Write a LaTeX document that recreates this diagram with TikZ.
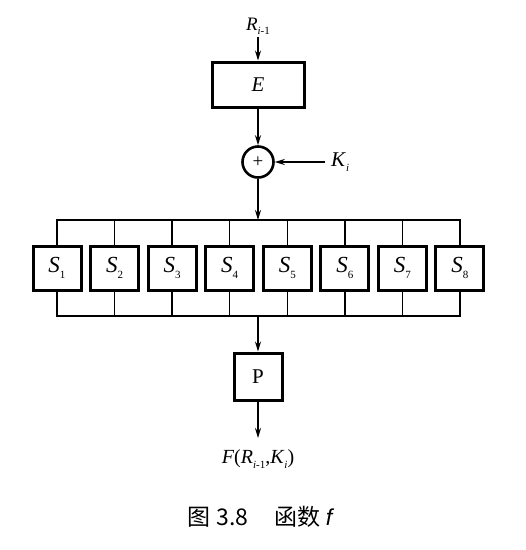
\documentclass[tikz,border=0pt]{standalone}
\usepackage{fontspec}
\setmainfont{Liberation Serif}
\setsansfont{Liberation Sans}
\newfontfamily\cjk{Noto Sans CJK SC}
\usetikzlibrary{arrows.meta}
\newcommand{\lsub}[1]{\raisebox{-0.5ex}{\fontsize{11}{12}\selectfont #1}}
\tikzset{
  x=1pt, y=-1pt,
  conn/.style={line width=1.5pt, draw=black},
  arr/.style={conn, -{Stealth[length=10pt,width=6pt]}},
  bigbox/.style={draw=black, line width=3pt, minimum width=92pt, minimum height=45pt, inner sep=0pt},
  sbox/.style={draw=black, line width=3pt, minimum width=48pt, minimum height=44pt, inner sep=0pt, font=\fontsize{23}{25}\selectfont},
  pbox/.style={draw=black, line width=3pt, minimum width=48pt, minimum height=47pt, inner sep=0pt, font=\fontsize{21}{23}\selectfont},
  xorc/.style={draw=black, circle, line width=2.6pt, minimum size=31pt, inner sep=0pt},
  lbl/.style={inner sep=0pt},
}
\begin{document}
\begin{tikzpicture}
\useasboundingbox[fill=white] (0,0) rectangle (526,550);

\node[lbl, font=\fontsize{19}{21}\selectfont] (r) at (258,26) {\textit{R}\lsub{\textit{i}-1}};
\coordinate (rin) at (258,37);
\node[bigbox, font=\fontsize{21}{23}\selectfont] (e) at (258,84.5) {\textit{E}};
\node[xorc] (x) at (258,162) {\fontsize{19}{19}\selectfont +};
\node[lbl, font=\fontsize{21}{23}\selectfont, anchor=west] (k) at (331,162) {\textit{K}\lsub{\textit{i}}};
\coordinate (kin) at (325,162);

\draw[arr] (rin) -- (e.north);
\draw[arr] (e.south) -- (x.north);
\draw[arr] (kin) -- (x.east);

\coordinate (tb) at (258,220);
\coordinate (bb) at (258,316);
\draw[arr] (x.south) -- (tb);

\foreach \i in {1,...,8} {
  \node[sbox] (s\i) at ({57+57.57*(\i-1)},268) {\textit{S}\lsub{\i}};
}
\draw[conn] (s1.north) |- (tb) -| (s8.north);
\draw[conn] (s1.south) |- (bb) -| (s8.south);
\foreach \i in {2,...,7} {
  \draw[conn] (s\i.north) -- (s\i.north |- tb);
  \draw[conn] (s\i.south) -- (s\i.south |- bb);
}

\node[pbox] (p) at (258,376.5) {P};
\draw[arr] (bb) -- (p.north);
\coordinate (pout) at (258,438);
\draw[arr] (p.south) -- (pout);
\node[lbl, font=\fontsize{20}{22}\selectfont] (f) at (258,459) {\textit{F}(\textit{R}\lsub{\textit{i}-1},\textit{K}\lsub{\textit{i}})};

\node[lbl] (cap) at (260,517) {\fontsize{23}{26}\selectfont{\cjk 图\hspace{6pt}3.8\hspace{26pt}函数\hspace{5pt}}{\sffamily\itshape f}};
\end{tikzpicture}
\end{document}
